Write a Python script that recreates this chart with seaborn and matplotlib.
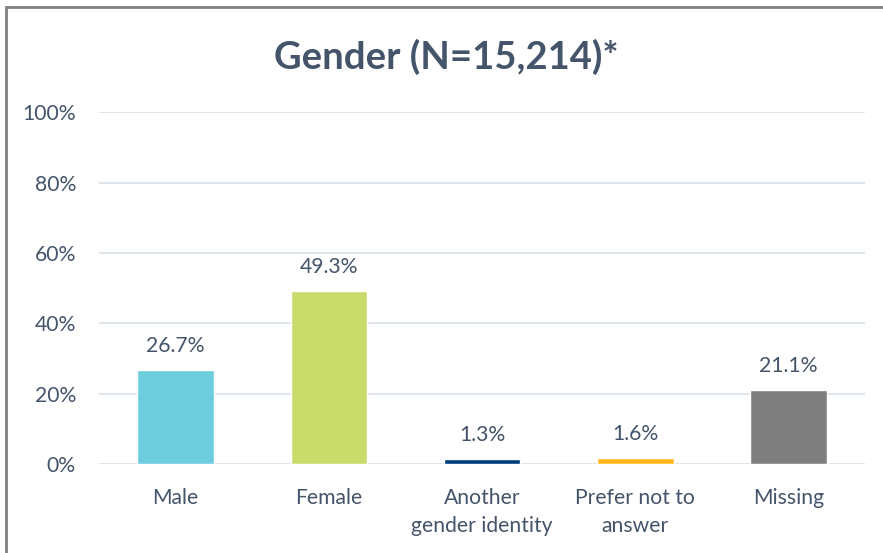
import matplotlib.pyplot as plt
import matplotlib.patches as mpatches
import seaborn as sns
import pandas as pd

categories = ["Male", "Female", "Another\ngender identity", "Prefer not to\nanswer", "Missing"]
values = [26.7, 49.3, 1.3, 1.6, 21.1]
colors = ["#6DCDDD", "#C9DC6B", "#003C7D", "#FFB81C", "#7F7F7F"]
y_ticks = [0, 20, 40, 60, 80, 100]
title = "Gender (N=15,214)*"

text_color = "#44546A"
grid_color = "#DCE3EC"

sns.set_theme(style="white")
plt.rcParams['font.family'] = ['Lato', 'DejaVu Sans']

df = pd.DataFrame({"cat": categories, "val": values})

fig = plt.figure(figsize=(8.83, 5.53), dpi=100)
ax = fig.add_axes([0.112, 0.161, 0.868, 0.636])

sns.barplot(data=df, x="cat", y="val", hue="cat", palette=colors, dodge=False,
            width=0.5, legend=False, ax=ax, saturation=1, zorder=3)

ax.set_ylim(0, 100)
ax.set_xlim(-0.5, len(categories) - 0.5)
ax.set_yticks(y_ticks)
ax.set_yticklabels([f"{t}%" for t in y_ticks])
for t in y_ticks:
    ax.axhline(t, color=grid_color, lw=1.3, zorder=1)

for i, v in enumerate(values):
    ax.text(i, v + 4.0, f"{v:.1f}%", ha="center", va="bottom",
            fontsize=15.2, color=text_color)

for s in ax.spines.values():
    s.set_visible(False)
ax.tick_params(axis="both", length=0, labelsize=15.2, labelcolor=text_color)
ax.tick_params(axis="y", pad=16.5)
ax.tick_params(axis="x", pad=17)
for lbl in ax.get_xticklabels():
    lbl.set_linespacing(1.5)
ax.set_xlabel("")
ax.set_ylabel("")

fig.text(0.505, 0.898, title, ha="center", va="center", fontsize=27.5,
         fontweight="bold", color=text_color)

# outer frame (right and bottom edges fall outside the image)
fig.patches.append(mpatches.Rectangle((5.5 / 883, -0.05), 1.0, 1.0 - 7.5 / 553 + 0.05,
                                      transform=fig.transFigure, fill=False,
                                      edgecolor="#808080", lw=2))

fig.savefig("out.png", dpi=100)
